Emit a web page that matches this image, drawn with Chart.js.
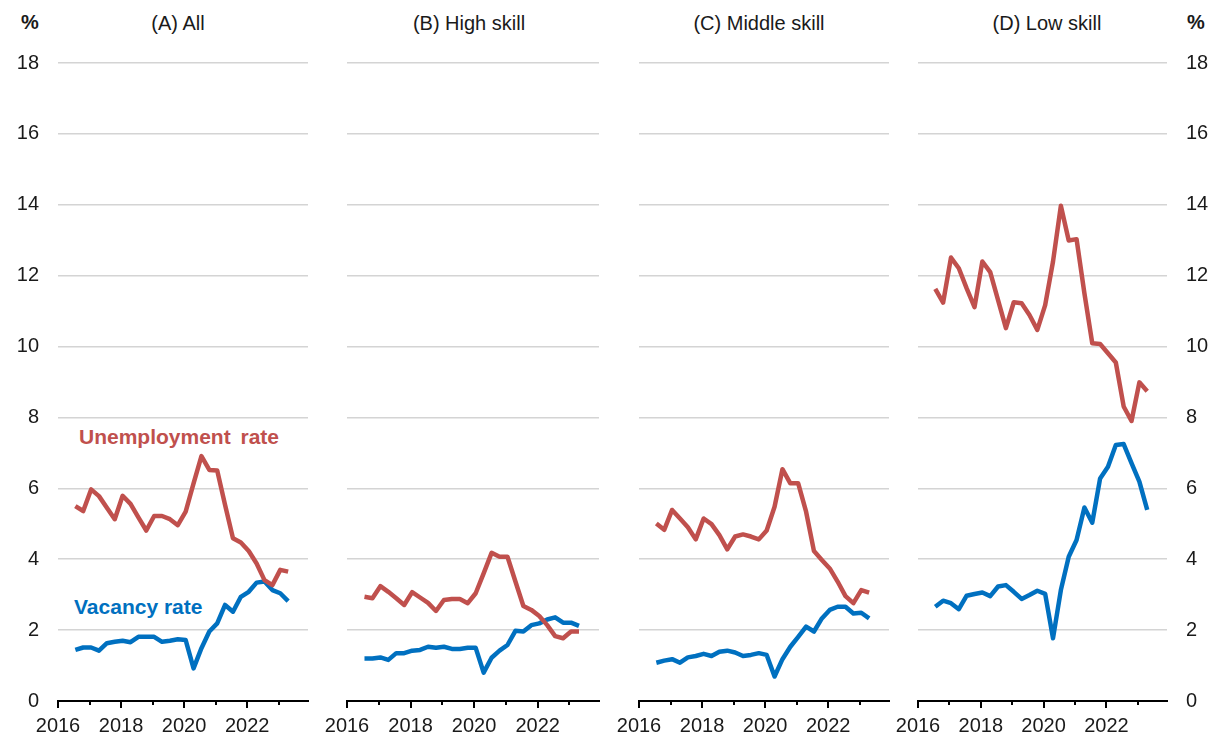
<!DOCTYPE html>
<html>
<head>
<meta charset="utf-8">
<script src="https://cdn.jsdelivr.net/npm/chart.js@4.4.1/dist/chart.umd.min.js"></script>
<style>
  body { margin: 0; background: #fff; width: 1217px; height: 738px; overflow: hidden; position: relative; font-family: "Liberation Sans", Arial, sans-serif; }
  canvas { position: absolute; top: 0; }
  .txt { position: absolute; font-size: 20px; line-height: 1; color: #1a1a1a; white-space: nowrap; }
  .mid { transform: translateX(-50%); }
  .bold { font-weight: bold; }
</style>
</head>
<body>
<div class="txt bold mid" style="left:30px; top:12px;">%</div>
<div class="txt bold mid" style="left:1196px; top:12px;">%</div>
<div class="txt mid" style="left:178px; top:13px;">(A) All</div>
<div class="txt mid" style="left:469px; top:13px;">(B) High skill</div>
<div class="txt mid" style="left:759px; top:13px;">(C) Middle skill</div>
<div class="txt mid" style="left:1047px; top:13px;">(D) Low skill</div>
<div class="txt bold" style="left:79px; top:426px; font-size:21px; color:#C0504D; word-spacing:4px;">Unemployment rate</div>
<div class="txt bold" style="left:74px; top:596px; font-size:21px; color:#0070C0;">Vacancy rate</div>

<canvas id="chartA" width="320" height="738" style="left:0px"></canvas>
<canvas id="chartB" width="320" height="738" style="left:291px"></canvas>
<canvas id="chartC" width="318" height="738" style="left:583px"></canvas>
<canvas id="chartD" width="329" height="738" style="left:888px"></canvas>

<script>
// quarterly observations
const quarters = [
  '2016Q3', '2016Q4',
  '2017Q1', '2017Q2', '2017Q3', '2017Q4',
  '2018Q1', '2018Q2', '2018Q3', '2018Q4',
  '2019Q1', '2019Q2', '2019Q3', '2019Q4',
  '2020Q1', '2020Q2', '2020Q3', '2020Q4',
  '2021Q1', '2021Q2', '2021Q3', '2021Q4',
  '2022Q1', '2022Q2', '2022Q3', '2022Q4',
  '2023Q1', '2023Q2'
];
const yearTicks = [2016, 2017, 2018, 2019, 2020, 2021, 2022, 2023];
const yTicks = [0, 2, 4, 6, 8, 10, 12, 14, 16, 18];

// (A) All
const unempAll = [5.50, 5.36, 5.97, 5.78, 5.45, 5.13, 5.79, 5.56, 5.18, 4.81, 5.22, 5.22, 5.13, 4.96, 5.34, 6.14, 6.91, 6.52, 6.50, 5.53, 4.59, 4.47, 4.23, 3.88, 3.41, 3.27, 3.70, 3.65];
const vacAll = [1.44, 1.51, 1.51, 1.42, 1.63, 1.67, 1.70, 1.66, 1.81, 1.81, 1.81, 1.67, 1.70, 1.74, 1.72, 0.92, 1.49, 1.96, 2.19, 2.71, 2.52, 2.94, 3.08, 3.34, 3.37, 3.13, 3.04, 2.82];
// (B) High skill
const unempHigh = [2.94, 2.90, 3.24, 3.08, 2.90, 2.71, 3.07, 2.92, 2.77, 2.54, 2.85, 2.88, 2.88, 2.76, 3.04, 3.60, 4.18, 4.07, 4.07, 3.37, 2.68, 2.57, 2.40, 2.14, 1.83, 1.77, 1.96, 1.96];
const vacHigh = [1.20, 1.20, 1.23, 1.16, 1.35, 1.35, 1.42, 1.44, 1.53, 1.50, 1.53, 1.47, 1.47, 1.50, 1.50, 0.80, 1.22, 1.42, 1.58, 1.98, 1.96, 2.14, 2.19, 2.30, 2.36, 2.21, 2.21, 2.12];
// (C) Middle skill
const unempMid = [5.01, 4.83, 5.39, 5.15, 4.90, 4.56, 5.15, 4.99, 4.68, 4.28, 4.64, 4.70, 4.64, 4.56, 4.81, 5.48, 6.54, 6.14, 6.14, 5.34, 4.23, 3.98, 3.74, 3.37, 2.96, 2.76, 3.13, 3.06];
const vacMid = [1.08, 1.14, 1.18, 1.08, 1.23, 1.27, 1.33, 1.27, 1.39, 1.42, 1.37, 1.27, 1.30, 1.35, 1.30, 0.69, 1.18, 1.53, 1.81, 2.10, 1.96, 2.33, 2.57, 2.66, 2.66, 2.47, 2.49, 2.33];
// (D) Low skill
const unempLow = [11.63, 11.24, 12.51, 12.21, 11.64, 11.11, 12.40, 12.10, 11.31, 10.52, 11.25, 11.22, 10.89, 10.47, 11.17, 12.40, 13.97, 12.99, 13.03, 11.50, 10.09, 10.07, 9.81, 9.55, 8.31, 7.90, 8.99, 8.74];
const vacLow = [2.66, 2.83, 2.76, 2.59, 2.97, 3.02, 3.06, 2.96, 3.23, 3.27, 3.08, 2.88, 2.99, 3.11, 3.02, 1.77, 3.13, 4.07, 4.54, 5.46, 5.03, 6.28, 6.61, 7.22, 7.25, 6.71, 6.19, 5.39];

const RED = '#C0504D';
const BLUE = '#0070C0';

Chart.defaults.font.family = '"Liberation Sans", Arial, sans-serif';
Chart.defaults.color = '#1a1a1a';

function toPoints(vals) {
  return vals.map((v, i) => {
    const [yr, q] = quarters[i].split('Q').map(Number);
    return { x: yr + (q - 1) / 4 + 0.05, y: v };
  });
}

// year tick marks below the axis: long on even years, short on odd
const yearMarks = {
  id: 'yearMarks',
  afterDraw(chart) {
    const xs = chart.scales.x;
    const ctx = chart.ctx;
    const y0 = chart.chartArea.bottom;
    ctx.save();
    ctx.strokeStyle = '#000';
    ctx.lineWidth = 2;
    yearTicks.forEach(yr => {
      const px = Math.round(xs.getPixelForValue(yr));
      const len = yr % 2 === 0 ? 7 : 4;
      ctx.beginPath();
      ctx.moveTo(px, y0);
      ctx.lineTo(px, y0 + len);
      ctx.stroke();
    });
    ctx.restore();
  }
};

function makePanel(id, unemp, vac, side, showY, axisW, padL, padR) {
  return new Chart(document.getElementById(id), {
    type: 'line',
    data: {
      datasets: [
        { data: toPoints(unemp), borderColor: RED, borderWidth: 4.5, pointRadius: 0, tension: 0, borderJoinStyle: 'round' },
        { data: toPoints(vac), borderColor: BLUE, borderWidth: 4.5, pointRadius: 0, tension: 0, borderJoinStyle: 'round' }
      ]
    },
    options: {
      responsive: false,
      animation: false,
      layout: {
        padding: { top: 63, bottom: 0, left: padL, right: padR }
      },
      plugins: {
        legend: { display: false },
        tooltip: { enabled: false }
      },
      scales: {
        x: {
          type: 'linear',
          min: 2016,
          max: 2023.93,
          grid: { display: false, drawTicks: false },
          border: { display: true, color: '#000', width: 2 },
          ticks: {
            stepSize: 1,
            includeBounds: false,
            autoSkip: false,
            maxRotation: 0,
            padding: 13,
            font: { size: 20 },
            callback: v => (Number.isInteger(v) && v % 2 === 0) ? String(v) : ''
          },
          afterFit: s => { s.height = 37; s.paddingLeft = 0; s.paddingRight = 0; }
        },
        y: {
          position: side,
          min: 0,
          max: 18,
          afterBuildTicks: s => { s.ticks = yTicks.map(v => ({ value: v })); },
          grid: {
            drawTicks: false,
            lineWidth: 1.5,
            color: c => c.tick && c.tick.value === 0 ? 'rgba(0,0,0,0)' : '#d4d4d4'
          },
          border: { display: false },
          ticks: { display: showY, padding: 19, font: { size: 20 } },
          afterFit: s => { s.width = axisW; }
        }
      }
    },
    plugins: [yearMarks]
  });
}

const chartA = makePanel('chartA', unempAll, vacAll, 'left', true, 58, 0, 12);
const chartB = makePanel('chartB', unempHigh, vacHigh, 'left', false, 56, 0, 12);
const chartC = makePanel('chartC', unempMid, vacMid, 'left', false, 56, 0, 12);
const chartD = makePanel('chartD', unempLow, vacLow, 'right', true, 50, 30, 0);
</script>
</body>
</html>
